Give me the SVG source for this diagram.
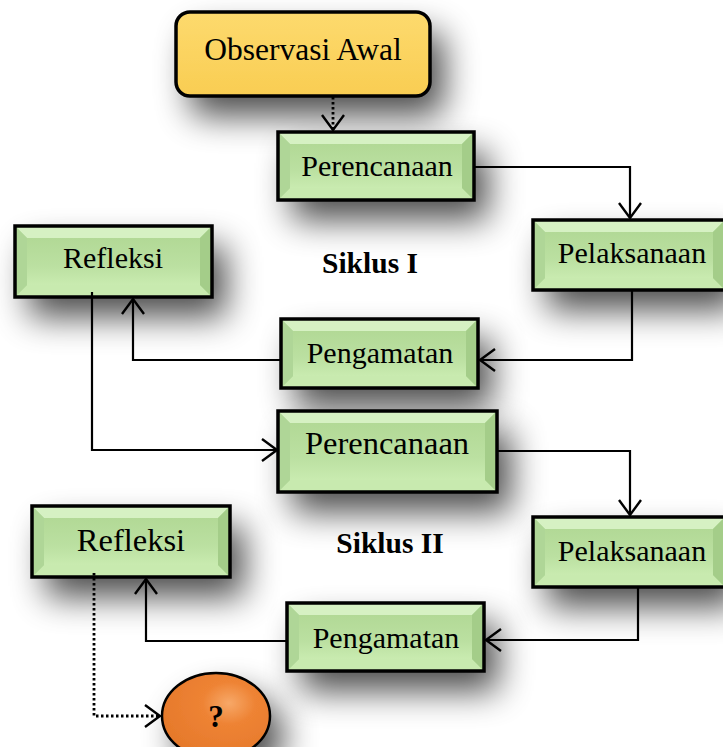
<svg xmlns="http://www.w3.org/2000/svg" width="723" height="747" viewBox="0 0 723 747">
<defs>
<style>
.bt{fill:#D6F1C3}
.bb{fill:#C8EAAF}
.bl{fill:#AFD697}
.br{fill:#A4CD89}
.in{fill:url(#gi)}
.ol{fill:none;stroke:#000;stroke-width:3.5}
.sd{fill:#B5DC9A;filter:url(#sh)}
.lbl{font-family:"Liberation Serif","Times New Roman",serif;font-size:30px;fill:#000;text-anchor:middle}
.sk{font-family:"Liberation Serif","Times New Roman",serif;font-size:29.5px;font-weight:bold;fill:#000;text-anchor:middle}
.cn{fill:none;stroke:#000;stroke-width:2.2}
.dt{fill:none;stroke:#000;stroke-width:2.8;stroke-dasharray:2.5,2.5}
</style>
<linearGradient id="gi" x1="0" y1="0" x2="0" y2="1">
<stop offset="0" stop-color="#B2D996"/>
<stop offset="0.6" stop-color="#BBE0A1"/>
<stop offset="1" stop-color="#C9EBB0"/>
</linearGradient>
<linearGradient id="go" x1="0" y1="0" x2="0" y2="1">
<stop offset="0" stop-color="#FDDA6E"/>
<stop offset="1" stop-color="#F9CD52"/>
</linearGradient>
<radialGradient id="ge" cx="0.62" cy="0.35" r="0.7">
<stop offset="0" stop-color="#F7A868"/>
<stop offset="0.35" stop-color="#EE8334"/>
<stop offset="1" stop-color="#E5782A"/>
</radialGradient>
<filter id="sh" x="-50%" y="-80%" width="220%" height="340%">
<feGaussianBlur in="SourceAlpha" stdDeviation="17"/>
<feOffset dx="14" dy="20"/>
<feComponentTransfer><feFuncA type="linear" slope="0.7"/></feComponentTransfer>
<feMerge><feMergeNode/><feMergeNode in="SourceGraphic"/></feMerge>
</filter>
<marker id="ar" markerUnits="userSpaceOnUse" markerWidth="20" markerHeight="26" viewBox="0 0 20 26" refX="17" refY="13" orient="auto">
<path d="M2,2 L17,13 L2,24" fill="none" stroke="#000" stroke-width="2.4"/>
</marker>
</defs>
<rect width="723" height="747" fill="#fff"/>

<g id="observasi">
<rect x="176" y="12" width="254" height="84" rx="14" fill="url(#go)" style="filter:url(#sh)"/>
<rect x="176" y="12" width="254" height="84" rx="14" fill="none" stroke="#000" stroke-width="3.5"/>
<text class="lbl" x="303" y="60" style="font-size:31.5px">Observasi Awal</text>
</g>

<g id="perencanaan1" transform="translate(278,132)">
<rect class="sd" width="196" height="68"/>
<polygon class="bt" points="0,0 196,0 184,12 12,12"/>
<polygon class="bb" points="0,68 196,68 184,56 12,56"/>
<polygon class="bl" points="0,0 12,12 12,56 0,68"/>
<polygon class="br" points="196,0 184,12 184,56 196,68"/>
<rect class="in" x="12" y="12" width="172" height="44"/>
<rect class="ol" width="196" height="68"/>
<text class="lbl" x="99" y="44">Perencanaan</text>
</g>

<g id="pelaksanaan1" transform="translate(533,220)">
<rect class="sd" width="192" height="70"/>
<polygon class="bt" points="0,0 192,0 180,12 12,12"/>
<polygon class="bb" points="0,70 192,70 180,58 12,58"/>
<polygon class="bl" points="0,0 12,12 12,58 0,70"/>
<polygon class="br" points="192,0 180,12 180,58 192,70"/>
<rect class="in" x="12" y="12" width="168" height="46"/>
<rect class="ol" width="192" height="70"/>
<text class="lbl" x="99" y="43">Pelaksanaan</text>
</g>

<g id="pengamatan1" transform="translate(281,319)">
<rect class="sd" width="197" height="69"/>
<polygon class="bt" points="0,0 197,0 185,12 12,12"/>
<polygon class="bb" points="0,69 197,69 185,57 12,57"/>
<polygon class="bl" points="0,0 12,12 12,57 0,69"/>
<polygon class="br" points="197,0 185,12 185,57 197,69"/>
<rect class="in" x="12" y="12" width="173" height="45"/>
<rect class="ol" width="197" height="69"/>
<text class="lbl" x="99" y="44">Pengamatan</text>
</g>

<g id="refleksi1" transform="translate(15,226)">
<rect class="sd" width="197" height="71"/>
<polygon class="bt" points="0,0 197,0 185,12 12,12"/>
<polygon class="bb" points="0,71 197,71 185,59 12,59"/>
<polygon class="bl" points="0,0 12,12 12,59 0,71"/>
<polygon class="br" points="197,0 185,12 185,59 197,71"/>
<rect class="in" x="12" y="12" width="173" height="47"/>
<rect class="ol" width="197" height="71"/>
<text class="lbl" x="98" y="42">Refleksi</text>
</g>

<g id="perencanaan2" transform="translate(278,411)">
<rect class="sd" width="219" height="81"/>
<polygon class="bt" points="0,0 219,0 207,12 12,12"/>
<polygon class="bb" points="0,81 219,81 207,69 12,69"/>
<polygon class="bl" points="0,0 12,12 12,69 0,81"/>
<polygon class="br" points="219,0 207,12 207,69 219,81"/>
<rect class="in" x="12" y="12" width="195" height="57"/>
<rect class="ol" width="219" height="81"/>
<text class="lbl" x="109" y="43" style="font-size:32.5px">Perencanaan</text>
</g>

<g id="pelaksanaan2" transform="translate(533,517)">
<rect class="sd" width="192" height="70"/>
<polygon class="bt" points="0,0 192,0 180,12 12,12"/>
<polygon class="bb" points="0,70 192,70 180,58 12,58"/>
<polygon class="bl" points="0,0 12,12 12,58 0,70"/>
<polygon class="br" points="192,0 180,12 180,58 192,70"/>
<rect class="in" x="12" y="12" width="168" height="46"/>
<rect class="ol" width="192" height="70"/>
<text class="lbl" x="99" y="44">Pelaksanaan</text>
</g>

<g id="pengamatan2" transform="translate(287,603)">
<rect class="sd" width="197" height="68"/>
<polygon class="bt" points="0,0 197,0 185,12 12,12"/>
<polygon class="bb" points="0,68 197,68 185,56 12,56"/>
<polygon class="bl" points="0,0 12,12 12,56 0,68"/>
<polygon class="br" points="197,0 185,12 185,56 197,68"/>
<rect class="in" x="12" y="12" width="173" height="44"/>
<rect class="ol" width="197" height="68"/>
<text class="lbl" x="99" y="45">Pengamatan</text>
</g>

<g id="refleksi2" transform="translate(32,506)">
<rect class="sd" width="198" height="71"/>
<polygon class="bt" points="0,0 198,0 186,12 12,12"/>
<polygon class="bb" points="0,71 198,71 186,59 12,59"/>
<polygon class="bl" points="0,0 12,12 12,59 0,71"/>
<polygon class="br" points="198,0 186,12 186,59 198,71"/>
<rect class="in" x="12" y="12" width="174" height="47"/>
<rect class="ol" width="198" height="71"/>
<text class="lbl" x="99" y="45" style="font-size:32.5px">Refleksi</text>
</g>

<g id="hasil">
<ellipse cx="216" cy="716" rx="54" ry="43" fill="url(#ge)" style="filter:url(#sh)"/>
<ellipse cx="216" cy="716" rx="54" ry="43" fill="none" stroke="#000" stroke-width="2.5"/>
<text x="216" y="727" style="font-family:'Liberation Serif','Times New Roman',serif;font-size:31px;font-weight:bold;text-anchor:middle">?</text>
</g>

<g id="labels">
<text class="sk" x="370" y="273">Siklus I</text>
<text class="sk" x="390" y="553">Siklus II</text>
</g>

<g id="connectors">
<path class="dt" d="M333,97 V130" marker-end="url(#ar)"/>
<path class="cn" d="M474,167 H630 V218" marker-end="url(#ar)"/>
<path class="cn" d="M632,290 V360 H480" marker-end="url(#ar)"/>
<path class="cn" d="M281,360 H133 V299" marker-end="url(#ar)"/>
<path class="cn" d="M92,292 V450 H277" marker-end="url(#ar)"/>
<path class="cn" d="M497,451 H630 V515" marker-end="url(#ar)"/>
<path class="cn" d="M638,587 V640 H486" marker-end="url(#ar)"/>
<path class="cn" d="M287,641 H146 V579" marker-end="url(#ar)"/>
<path class="dt" d="M94,573 V716 H160" marker-end="url(#ar)"/>
</g>
</svg>
